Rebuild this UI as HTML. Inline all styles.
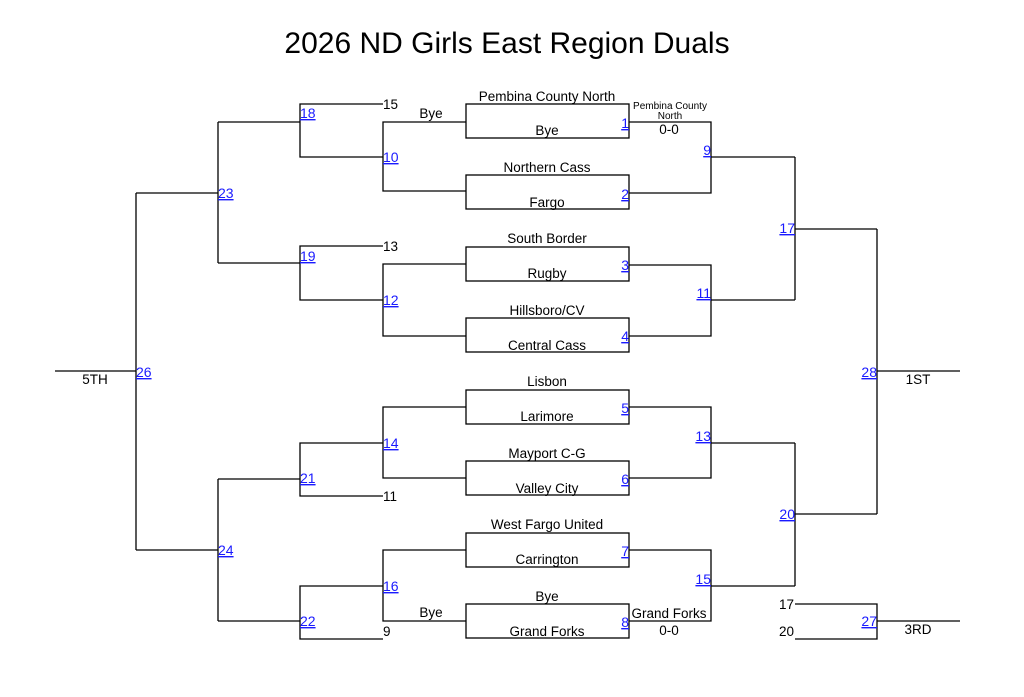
<!DOCTYPE html>
<html><head><meta charset="utf-8"><style>
html,body{margin:0;padding:0;background:#fff;}
svg{display:block;font-family:"Liberation Sans",sans-serif;}
.l{stroke:#000;stroke-width:1.3;fill:none;}
.t{font-size:13.5px;fill:#000;}
.s{font-size:10px;fill:#000;}
.b{font-size:14px;fill:#1a1aff;text-decoration:underline;}
</style></head><body>
<svg width="1024" height="697" viewBox="0 0 1024 697">
<text x="507" y="53" text-anchor="middle" style="font-size:30px">2026 ND Girls East Region Duals</text>
<g class="l">
<rect x="466" y="104" width="163" height="34"/>
<rect x="466" y="175" width="163" height="34"/>
<rect x="466" y="247" width="163" height="34"/>
<rect x="466" y="318" width="163" height="34"/>
<rect x="466" y="390" width="163" height="34"/>
<rect x="466" y="461" width="163" height="34"/>
<rect x="466" y="533" width="163" height="34"/>
<rect x="466" y="604" width="163" height="34"/>
<polyline points="629,122 711,122 711,193 629,193"/>
<line x1="711" y1="157" x2="795" y2="157"/>
<polyline points="629,265 711,265 711,336 629,336"/>
<line x1="711" y1="300" x2="795" y2="300"/>
<line x1="795" y1="157" x2="795" y2="300"/>
<line x1="795" y1="229" x2="877" y2="229"/>
<polyline points="629,407 711,407 711,478 629,478"/>
<line x1="711" y1="443" x2="795" y2="443"/>
<polyline points="629,550 711,550 711,621 629,621"/>
<line x1="711" y1="586" x2="795" y2="586"/>
<line x1="795" y1="443" x2="795" y2="586"/>
<line x1="795" y1="514" x2="877" y2="514"/>
<line x1="877" y1="229" x2="877" y2="514"/>
<line x1="877" y1="371" x2="960" y2="371"/>
<polyline points="795,604 877,604 877,639 795,639"/>
<line x1="877" y1="621" x2="960" y2="621"/>
<polyline points="466,122 383,122 383,191 466,191"/>
<polyline points="383,104 300,104 300,157 383,157"/>
<line x1="300" y1="122" x2="218" y2="122"/>
<polyline points="466,264 383,264 383,336 466,336"/>
<polyline points="383,246 300,246 300,300 383,300"/>
<line x1="300" y1="263" x2="218" y2="263"/>
<line x1="218" y1="122" x2="218" y2="263"/>
<line x1="218" y1="193" x2="136" y2="193"/>
<polyline points="466,407 383,407 383,478 466,478"/>
<polyline points="383,443 300,443 300,496 383,496"/>
<line x1="300" y1="479" x2="218" y2="479"/>
<polyline points="466,550 383,550 383,621 466,621"/>
<polyline points="383,586 300,586 300,639 383,639"/>
<line x1="300" y1="621" x2="218" y2="621"/>
<line x1="218" y1="479" x2="218" y2="621"/>
<line x1="218" y1="550" x2="136" y2="550"/>
<line x1="136" y1="193" x2="136" y2="550"/>
<line x1="136" y1="371" x2="55" y2="371"/>
</g>
<g class="t" text-anchor="middle">
<text x="547" y="101">Pembina County North</text><text x="547" y="135">Bye</text>
<text x="547" y="172">Northern Cass</text><text x="547" y="207">Fargo</text>
<text x="547" y="243">South Border</text><text x="547" y="278">Rugby</text>
<text x="547" y="315">Hillsboro/CV</text><text x="547" y="350">Central Cass</text>
<text x="547" y="386">Lisbon</text><text x="547" y="421">Larimore</text>
<text x="547" y="458">Mayport C-G</text><text x="547" y="493">Valley City</text>
<text x="547" y="529">West Fargo United</text><text x="547" y="564">Carrington</text>
<text x="547" y="601">Bye</text><text x="547" y="636">Grand Forks</text>
<text x="431" y="118">Bye</text><text x="431" y="617">Bye</text>
<text x="669" y="134">0-0</text>
<text x="669" y="618">Grand Forks</text><text x="669" y="635">0-0</text>
<text x="95" y="384">5TH</text><text x="918" y="384">1ST</text><text x="918" y="634">3RD</text>
</g>
<g class="s" text-anchor="middle"><text x="670" y="109">Pembina County</text><text x="670" y="119">North</text></g>
<g class="t">
<text x="383" y="109">15</text><text x="383" y="251">13</text><text x="383" y="501">11</text><text x="383" y="636">9</text>
<text x="779" y="609">17</text><text x="779" y="636">20</text>
</g>
<g class="b" text-anchor="end">
<text x="629" y="128">1</text><text x="629" y="199">2</text><text x="629" y="270">3</text><text x="629" y="341">4</text>
<text x="629" y="413">5</text><text x="629" y="484">6</text><text x="629" y="556">7</text><text x="629" y="627">8</text>
<text x="711" y="155">9</text><text x="711" y="298">11</text><text x="711" y="441">13</text><text x="711" y="584">15</text>
<text x="795" y="233">17</text><text x="795" y="519">20</text><text x="877" y="377">28</text><text x="877" y="626">27</text>
</g>
<g class="b">
<text x="300" y="118">18</text><text x="383" y="162">10</text><text x="218" y="198">23</text>
<text x="300" y="261">19</text><text x="383" y="305">12</text><text x="136" y="377">26</text>
<text x="383" y="448">14</text><text x="300" y="483">21</text><text x="218" y="555">24</text>
<text x="383" y="591">16</text><text x="300" y="626">22</text>
</g>
</svg>
</body></html>
